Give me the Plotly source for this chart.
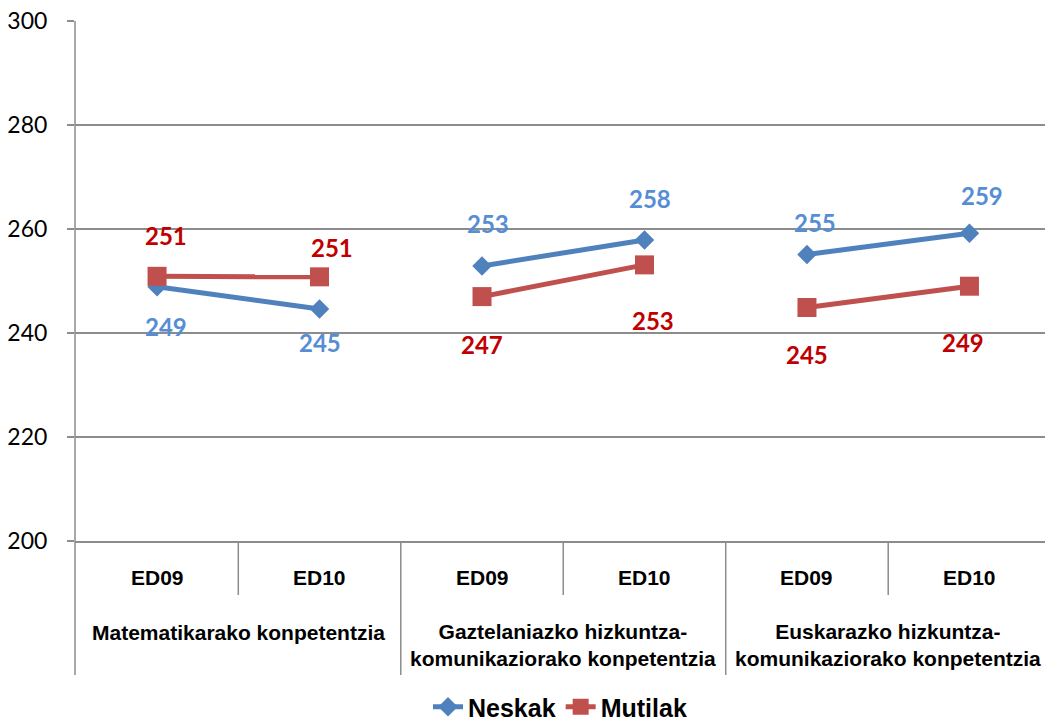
import plotly.graph_objects as go

# ---- data ----
sub_labels = ["ED09", "ED10", "ED09", "ED10", "ED09", "ED10"]
group_labels = ["Matematikarako konpetentzia",
                "Gaztelaniazko hizkuntza-<br>komunikaziorako konpetentzia",
                "Euskarazko hizkuntza-<br>komunikaziorako konpetentzia"]
neskak = [248.9, 244.6, 252.9, 257.9, 255.1, 259.2]
mutilak = [250.9, 250.8, 247.0, 253.1, 244.9, 249.0]
y_ticks = [200, 220, 240, 260, 280, 300]

# ---- label offsets (px, style only) ----
neskak_dx = [9, 0, 6, 6, 8, 13]
neskak_dy = [-40, -33, 42, 41, 32, 38]
mutilak_dx = [9, 12, 0, 9, 0, -6]
mutilak_dy = [41, 29, -48, -56, -47, -56]

BLUE = "#4F81BD"
RED = "#C0504D"
BLUE_LBL = "#558ED5"
RED_LBL = "#C00000"
GRID = "#8C8C8C"
NUM_FONT = "Lato, Open Sans, sans-serif"
CAT_FONT = "Liberation Sans, Arial, sans-serif"

xs = list(range(len(sub_labels)))


def with_gaps(vals):
    """Break the line between groups (each group has 2 points)."""
    gx, gy = [], []
    for i, v in enumerate(vals):
        if i > 0 and i % 2 == 0:
            gx.append(None)
            gy.append(None)
        gx.append(xs[i])
        gy.append(v)
    return gx, gy


nx, ny = with_gaps(neskak)
mx, my = with_gaps(mutilak)

fig = go.Figure()
fig.add_trace(go.Scatter(x=nx, y=ny, name="Neskak", mode="lines+markers",
                         connectgaps=False,
                         line=dict(color=BLUE, width=5),
                         marker=dict(symbol="diamond", size=15, color=BLUE)))
fig.add_trace(go.Scatter(x=mx, y=my, name="Mutilak", mode="lines+markers",
                         connectgaps=False,
                         line=dict(color=RED, width=5),
                         marker=dict(symbol="square", size=19, color=RED)))

annotations = []
for i, v in enumerate(neskak):
    annotations.append(dict(x=xs[i], y=v, xref="x", yref="y", text=f"<b>{round(v)}</b>",
                            showarrow=False, xshift=neskak_dx[i], yshift=neskak_dy[i],
                            font=dict(family=NUM_FONT, size=24, color=BLUE_LBL)))
for i, v in enumerate(mutilak):
    annotations.append(dict(x=xs[i], y=v, xref="x", yref="y", text=f"<b>{round(v)}</b>",
                            showarrow=False, xshift=mutilak_dx[i], yshift=mutilak_dy[i],
                            font=dict(family=NUM_FONT, size=24, color=RED_LBL)))

PLOT_H = 520.0


def py(px_below):
    return -px_below / PLOT_H


for i, lab in enumerate(sub_labels):
    annotations.append(dict(x=xs[i], y=py(36), xref="x", yref="paper", text=f"<b>{lab}</b>",
                            showarrow=False, yanchor="middle",
                            font=dict(family=CAT_FONT, size=21, color="#000000")))
for g, lab in enumerate(group_labels):
    two = "<br>" in lab
    annotations.append(dict(x=2 * g + 0.5, y=py(103.5 if two else 91), xref="x", yref="paper",
                            text=f"<b>{lab}</b>", showarrow=False, yanchor="middle",
                            font=dict(family=CAT_FONT, size=21, color="#000000")))

shapes = []
for g in range(3):
    shapes.append(dict(type="line", xref="x", yref="paper", x0=2 * g + 0.5, x1=2 * g + 0.5,
                       y0=0, y1=py(54), line=dict(color=GRID, width=1.5)))
for g in range(1, 3):
    shapes.append(dict(type="line", xref="x", yref="paper", x0=2 * g - 0.5, x1=2 * g - 0.5,
                       y0=0, y1=py(134), line=dict(color=GRID, width=1.5)))
shapes.append(dict(type="line", xref="paper", yref="paper", x0=0, x1=0,
                   y0=1, y1=py(134), line=dict(color=GRID, width=1.5)))

fig.update_layout(
    width=1045, height=726,
    margin=dict(l=75, r=0, t=21, b=185, autoexpand=False),
    paper_bgcolor="white", plot_bgcolor="white",
    showlegend=True,
    legend=dict(orientation="h", x=0.5, xanchor="center", y=py(166), yanchor="middle",
                font=dict(family=CAT_FONT, size=25, color="#000000", weight="bold"),
                itemwidth=30, tracegroupgap=0),
    xaxis=dict(range=[-0.505, 5.465], showgrid=False, zeroline=False,
               showticklabels=False, ticks="", showline=True, linecolor=GRID, linewidth=1.5),
    yaxis=dict(range=[200, 300], tickvals=y_ticks, ticks="outside", ticklen=7,
               tickcolor=GRID, tickwidth=1.5, showgrid=True, gridcolor=GRID, gridwidth=1.5,
               zeroline=False, showline=False, ticklabelstandoff=15,
               tickfont=dict(family=NUM_FONT, size=23, color="#000000")),
    annotations=annotations,
    shapes=shapes,
)

fig.write_html("out.html", config={"displayModeBar": False},
               post_script="document.body.style.margin='0';")
